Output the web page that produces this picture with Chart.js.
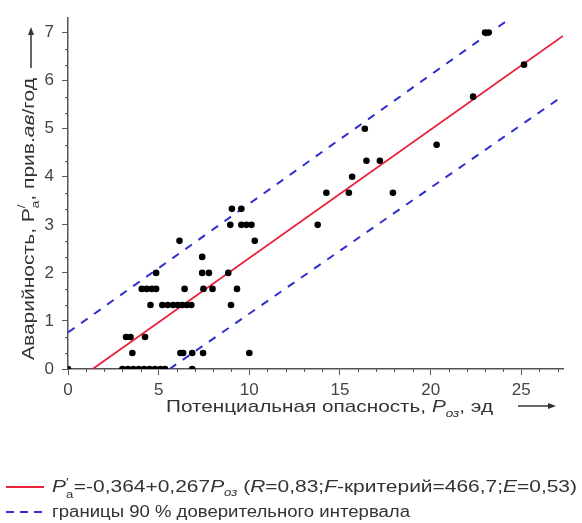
<!DOCTYPE html>
<html>
<head>
<meta charset="utf-8">
<script src="https://cdn.jsdelivr.net/npm/chart.js@4.4.1/dist/chart.umd.min.js"></script>
<style>
  html, body { margin: 0; padding: 0; background: #fff; }
  #wrap { position: relative; width: 582px; height: 523px; }
  #chart { position: absolute; left: 0; top: 0; }
  .row { position: absolute; left: 0; height: 20px; white-space: nowrap;
         font-family: "Liberation Sans", Arial, sans-serif; font-size: 16px; color: #333; }
  .row .txt { position: absolute; left: 52px; top: 0; line-height: 20px; transform-origin: 0 50%; }
  .sample { position: absolute; left: 6px; top: 9px; width: 38px; height: 2px; }
  .red { background: #e8203c; }
  .blue { background: repeating-linear-gradient(90deg, #2f2fd0 0 8px, transparent 8px 14px); }
  .pp { position: relative; display: inline-block; margin-right: 6px; }
  .pp .sp { position: absolute; left: 100%; top: -5px; font-size: 11px; font-style: normal; }
  .pp .sb { position: absolute; left: 100%; top: 8px; font-size: 10px; font-style: normal; }
  sub { font-size: 10px; vertical-align: -4px; line-height: 0; }
</style>
</head>
<body>
<div id="wrap">
  <canvas id="chart" width="582" height="523"></canvas>
  <div class="row" style="top:477px; width:582px;">
    <span class="sample red"></span>
    <span class="txt" data-w="525"><i class="pp">P<span class="sp">′</span><span class="sb">а</span></i>=-0,364+0,267<i>P</i><sub><i>оз</i></sub> (<i>R</i>=0,83;<i>F</i>-критерий=466,7;<i>E</i>=0,53)</span>
  </div>
  <div class="row" style="top:502px; width:582px;">
    <span class="sample blue"></span>
    <span class="txt" data-w="358">границы 90 % доверительного интервала</span>
  </div>
</div>
<script>
// точки: потенциальная опасность (x) и аварийность (y)
const riskX = [
  0, 3.0, 3.3, 3.6, 3.9, 4.2, 4.5, 4.8, 5.1, 5.35, 6.85,
  3.55, 6.2, 6.35, 6.85, 7.45, 10.0,
  3.2, 3.45, 4.25,
  4.55, 5.2, 5.5, 5.8, 6.05, 6.3, 6.55, 6.8, 8.99,
  4.07, 4.34, 4.62, 4.86, 6.43, 7.47, 7.97, 9.32,
  4.86, 7.4, 7.77, 8.84,
  7.4,
  6.15, 10.3,
  8.95, 9.56, 9.84, 10.12, 13.77,
  9.04, 9.56,
  14.25, 15.49, 17.92,
  15.67,
  16.46, 17.2,
  20.33,
  16.37,
  22.34,
  25.15,
  23.0, 23.2
];
const accidentY = [
  0, 0, 0, 0, 0, 0, 0, 0, 0, 0, 0,
  0.333, 0.333, 0.333, 0.333, 0.333, 0.333,
  0.667, 0.667, 0.667,
  1.333, 1.333, 1.333, 1.333, 1.333, 1.333, 1.333, 1.333, 1.333,
  1.667, 1.667, 1.667, 1.667, 1.667, 1.667, 1.667, 1.667,
  2, 2, 2, 2,
  2.333,
  2.667, 2.667,
  3, 3, 3, 3, 3,
  3.333, 3.333,
  3.667, 3.667, 3.667,
  4,
  4.333, 4.333,
  4.667,
  5,
  5.667,
  6.333,
  7, 7
];

// линия регрессии и границы 90 % интервала (концы отрезков)
const fitX = [1.36, 27.3];
const fitY = [0, 6.93];
const upperX = [0, 24.4];
const upperY = [0.76, 7.3];
const lowerX = [5.6, 27.1];
const lowerY = [0, 5.63];

const xTicks = [0, 5, 10, 15, 20, 25];
const yTicks = [0, 1, 2, 3, 4, 5, 6, 7];
const xMinor = [1, 2, 3, 4, 6, 7, 8, 9, 11, 12, 13, 14, 16, 17, 18, 19, 21, 22, 23, 24, 26, 27];
const yMinor = [0.333, 0.667, 1.333, 1.667, 2.333, 2.667, 3.333, 3.667, 4.333, 4.667, 5.333, 5.667, 6.333, 6.667];

const FONT = '"Liberation Sans", Arial, sans-serif';
const AXIS_COLOR = '#555';

function pairs(xs, ys) {
  return xs.map((x, i) => ({ x: x, y: ys[i] }));
}

function setFont(ctx, p) {
  ctx.font = (p.italic ? 'italic ' : '') + p.size + 'px ' + FONT;
}

// текст из частей, растянутый до нужной ширины
function drawRich(ctx, parts, x, y, width) {
  let total = 0;
  parts.forEach(p => {
    setFont(ctx, p);
    if (!p.stay) total += ctx.measureText(p.t).width;
  });
  ctx.save();
  ctx.translate(x, y);
  ctx.scale(width / total, 1);
  let cx = 0;
  parts.forEach(p => {
    setFont(ctx, p);
    ctx.fillText(p.t, cx, p.dy || 0);
    if (!p.stay) cx += ctx.measureText(p.t).width;
  });
  ctx.restore();
}

function arrow(ctx, x1, y1, x2, y2) {
  const a = Math.atan2(y2 - y1, x2 - x1);
  ctx.beginPath();
  ctx.moveTo(x1, y1);
  ctx.lineTo(x2 - 6 * Math.cos(a), y2 - 6 * Math.sin(a));
  ctx.stroke();
  ctx.beginPath();
  ctx.moveTo(x2, y2);
  ctx.lineTo(x2 - 8 * Math.cos(a) + 3 * Math.sin(a), y2 - 8 * Math.sin(a) - 3 * Math.cos(a));
  ctx.lineTo(x2 - 8 * Math.cos(a) - 3 * Math.sin(a), y2 - 8 * Math.sin(a) + 3 * Math.cos(a));
  ctx.closePath();
  ctx.fill();
}

// мелкие деления и подписи осей
const axisExtras = {
  id: 'axisExtras',
  afterDraw(chart) {
    const ctx = chart.ctx;
    const xs = chart.scales.x;
    const ys = chart.scales.y;
    const area = chart.chartArea;
    ctx.save();
    ctx.strokeStyle = AXIS_COLOR;
    ctx.fillStyle = AXIS_COLOR;
    ctx.lineWidth = 1;
    xMinor.forEach(v => {
      const px = Math.round(xs.getPixelForValue(v)) + 0.5;
      ctx.beginPath();
      ctx.moveTo(px, area.bottom);
      ctx.lineTo(px, area.bottom + 3);
      ctx.stroke();
    });
    yMinor.forEach(v => {
      const py = Math.round(ys.getPixelForValue(v)) + 0.5;
      ctx.beginPath();
      ctx.moveTo(area.left - 3, py);
      ctx.lineTo(area.left, py);
      ctx.stroke();
    });

    ctx.fillStyle = '#333';
    ctx.strokeStyle = '#333';
    ctx.textBaseline = 'alphabetic';
    ctx.textAlign = 'left';
    drawRich(ctx, [
      { t: 'Потенциальная опасность, ', size: 17 },
      { t: 'P', size: 17, italic: true },
      { t: 'оз', size: 11, italic: true, dy: 5 },
      { t: ', эд', size: 17 }
    ], 166, 412, 327);
    ctx.lineWidth = 1.5;
    arrow(ctx, 518, 406, 556, 406);

    ctx.save();
    ctx.translate(34, 360);
    ctx.rotate(-Math.PI / 2);
    drawRich(ctx, [
      { t: 'Аварийность, ', size: 17 },
      { t: 'P', size: 17 },
      { t: '/', size: 11, dy: -9, stay: true },
      { t: 'а', size: 11, dy: 5 },
      { t: ', прив.', size: 17 },
      { t: 'ав', size: 17, italic: true },
      { t: '/год', size: 17 }
    ], 0, 0, 282);
    ctx.restore();
    arrow(ctx, 31, 68, 31, 27);
    ctx.restore();
  }
};

new Chart(document.getElementById('chart'), {
  type: 'scatter',
  data: {
    datasets: [
      {
        label: 'данные',
        data: pairs(riskX, accidentY),
        backgroundColor: '#000',
        borderColor: '#000',
        pointRadius: 3.3,
        pointBorderWidth: 0
      },
      {
        label: 'регрессия',
        data: pairs(fitX, fitY),
        showLine: true,
        borderColor: '#e8203c',
        borderWidth: 1.8,
        pointRadius: 0
      },
      {
        label: 'верхняя граница',
        data: pairs(upperX, upperY),
        showLine: true,
        borderColor: '#2f2fd0',
        borderWidth: 2,
        borderDash: [8, 8],
        pointRadius: 0
      },
      {
        label: 'нижняя граница',
        data: pairs(lowerX, lowerY),
        showLine: true,
        borderColor: '#2f2fd0',
        borderWidth: 2,
        borderDash: [8, 8],
        pointRadius: 0
      }
    ]
  },
  options: {
    responsive: false,
    animation: false,
    layout: {
      padding: { left: 0, right: 19, top: 15, bottom: 114 }
    },
    scales: {
      x: {
        type: 'linear',
        min: 0,
        max: 27.3,
        afterBuildTicks: s => { s.ticks = xTicks.map(v => ({ value: v })); },
        afterFit: s => { s.height = 40; },
        ticks: { color: '#444', font: { family: FONT, size: 17 }, padding: 5 },
        grid: { drawOnChartArea: false, tickLength: 6, color: AXIS_COLOR },
        border: { color: AXIS_COLOR, width: 1.5 }
      },
      y: {
        type: 'linear',
        min: 0,
        max: 7.3,
        afterBuildTicks: s => { s.ticks = yTicks.map(v => ({ value: v })); },
        afterFit: s => { s.width = 68; },
        ticks: { color: '#444', font: { family: FONT, size: 17 }, padding: 8 },
        grid: { drawOnChartArea: false, tickLength: 6, color: AXIS_COLOR },
        border: { color: AXIS_COLOR, width: 1.5 }
      }
    },
    plugins: {
      legend: { display: false },
      tooltip: { enabled: false }
    }
  },
  plugins: [axisExtras]
});

// растянуть строки легенды до ширины оригинала
document.querySelectorAll('.row .txt').forEach(el => {
  const w = el.getBoundingClientRect().width;
  el.style.transform = 'scaleX(' + (Number(el.dataset.w) / w) + ')';
});
</script>
</body>
</html>
